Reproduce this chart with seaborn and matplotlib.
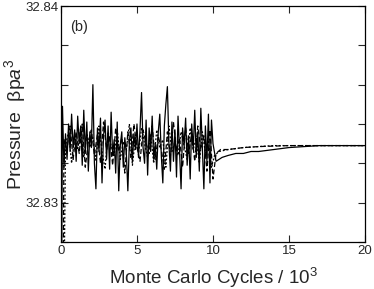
import matplotlib
matplotlib.use("Agg")
import matplotlib.pyplot as plt
import seaborn as sns
from matplotlib.ticker import FixedLocator, FuncFormatter

sns.set_style("ticks")
plt.rcParams['font.family'] = ['Liberation Sans', 'DejaVu Sans']
plt.rcParams['mathtext.fontset'] = 'custom'
plt.rcParams['mathtext.rm'] = 'Liberation Sans'
plt.rcParams['mathtext.it'] = 'Liberation Sans:italic'

# ---- data ----
solid_x = [0.0, 0.1, 0.2, 0.3, 0.4, 0.5, 0.6, 0.7, 0.8, 0.9,
           1.0, 1.1, 1.2, 1.3, 1.4, 1.5, 1.6, 1.7, 1.8, 1.9,
           2.0, 2.1, 2.2, 2.3, 2.4, 2.5, 2.6, 2.7, 2.8, 2.9,
           3.0, 3.1, 3.2, 3.3, 3.4, 3.5, 3.6, 3.7, 3.8, 3.9,
           4.0, 4.1, 4.2, 4.3, 4.4, 4.5, 4.6, 4.7, 4.8, 4.9,
           5.0, 5.1, 5.2, 5.3, 5.4, 5.5, 5.6, 5.7, 5.8, 5.9,
           6.0, 6.1, 6.2, 6.3, 6.4, 6.5, 6.6, 6.7, 6.8, 6.9,
           7.0, 7.1, 7.2, 7.3, 7.4, 7.5, 7.6, 7.7, 7.8, 7.9,
           8.0, 8.1, 8.2, 8.3, 8.4, 8.5, 8.6, 8.7, 8.8, 8.9,
           9.0, 9.1, 9.2, 9.3, 9.4, 9.5, 9.6, 9.7, 9.8, 9.9,
           10.0, 10.2, 10.6, 11.0, 11.5, 12.0, 12.5, 13.0, 14.0, 15.0,
           16.0, 17.0, 18.0, 19.0, 20.0]
solid_y = [32.8200, 32.8349, 32.8318, 32.8335, 32.8322, 32.8340, 32.8326, 32.8345, 32.8328, 32.8337,
           32.8321, 32.8344, 32.8330, 32.8339, 32.8319, 32.8347, 32.8325, 32.8341, 32.8316, 32.8336,
           32.8328, 32.8360, 32.8320, 32.8307, 32.8338, 32.8326, 32.8343, 32.8310, 32.8334, 32.8342,
           32.8322, 32.8339, 32.8317, 32.8346, 32.8324, 32.8332, 32.8315, 32.8341, 32.8306, 32.8329,
           32.8336, 32.8318, 32.8333, 32.8325, 32.8306, 32.8331, 32.8338, 32.8321, 32.8335, 32.8327,
           32.8340, 32.8323, 32.8337, 32.8356, 32.8328, 32.8320, 32.8342, 32.8314, 32.8338, 32.8326,
           32.8344, 32.8322, 32.8330, 32.8317, 32.8336, 32.8345, 32.8324, 32.8310, 32.8339, 32.8350,
           32.8359, 32.8330, 32.8316, 32.8341, 32.8321, 32.8337, 32.8313, 32.8344, 32.8326, 32.8307,
           32.8338, 32.8329, 32.8343, 32.8319, 32.8334, 32.8312, 32.8340, 32.8327, 32.8347, 32.8323,
           32.8336, 32.8316, 32.8348, 32.8328, 32.8307, 32.8339, 32.8321, 32.8345, 32.8310, 32.8342,
           32.8330, 32.8321, 32.8323, 32.8324, 32.8325, 32.8325, 32.8326, 32.8326, 32.8327, 32.8328,
           32.83285, 32.8329, 32.8329, 32.8329, 32.8329]

dash_x = [0.05, 0.2, 0.4, 0.6, 0.8, 1.0, 1.2, 1.4, 1.6, 1.8,
          2.0, 2.2, 2.4, 2.6, 2.8, 3.0, 3.2, 3.4, 3.6, 3.8,
          4.0, 4.2, 4.4, 4.6, 4.8, 5.0, 5.2, 5.4, 5.6, 5.8,
          6.0, 6.2, 6.4, 6.6, 6.8, 7.0, 7.2, 7.4, 7.6, 7.8,
          8.0, 8.2, 8.4, 8.6, 8.8, 9.0, 9.2, 9.4, 9.6, 9.8,
          10.0, 10.2, 10.5, 11.0, 12.0, 13.0, 15.0, 20.0]
dash_y = [32.8150, 32.8332, 32.8327, 32.8339, 32.8322, 32.8336, 32.8325, 32.8340, 32.8318, 32.8331,
          32.8337, 32.8324, 32.8335, 32.8320, 32.8341, 32.8327, 32.8334, 32.8319, 32.8338, 32.8326,
          32.8333, 32.8315, 32.8336, 32.8323, 32.8340, 32.8328, 32.8321, 32.8337, 32.8330, 32.8325,
          32.8339, 32.8322, 32.8334, 32.8327, 32.8317, 32.8336, 32.8324, 32.8341, 32.8326, 32.8333,
          32.8318, 32.8338, 32.8325, 32.8335, 32.8321, 32.8339, 32.8327, 32.8334, 32.8316, 32.8337,
          32.8312, 32.8325, 32.8327, 32.8327, 32.8328, 32.83285, 32.8329, 32.8329]

dot_x = [0.1, 0.3, 0.5, 0.7, 0.9, 1.1, 1.3, 1.5, 1.7, 1.9,
         2.1, 2.3, 2.5, 2.7, 2.9, 3.1, 3.3, 3.5, 3.7, 3.9,
         4.1, 4.3, 4.5, 4.7, 4.9, 5.1, 5.3, 5.5, 5.7, 5.9,
         6.1, 6.3, 6.5, 6.7, 6.9, 7.1, 7.3, 7.5, 7.7, 7.9,
         8.1, 8.3, 8.5, 8.7, 8.9, 9.1, 9.3, 9.5, 9.7, 9.9,
         10.1, 10.4, 11.0, 12.0, 14.0, 20.0]
dot_y = [32.8180, 32.8329, 32.8336, 32.8320, 32.8334, 32.8327, 32.8338, 32.8323, 32.8335, 32.8328,
         32.8333, 32.8321, 32.8339, 32.8326, 32.8317, 32.8336, 32.8329, 32.8324, 32.8337, 32.8322,
         32.8331, 32.8327, 32.8340, 32.8319, 32.8333, 32.8325, 32.8338, 32.8330, 32.8323, 32.8335,
         32.8320, 32.8337, 32.8328, 32.8332, 32.8318, 32.8339, 32.8326, 32.8331, 32.8324, 32.8336,
         32.8329, 32.8322, 32.8338, 32.8327, 32.8333, 32.8320, 32.8336, 32.8325, 32.8331, 32.8318,
         32.8324, 32.8326, 32.8327, 32.8328, 32.8329, 32.8329]

xticks = [0, 5, 10, 15, 20]
yticks = [32.828, 32.830, 32.832, 32.834, 32.836, 32.838, 32.840]
ylabeled = ["32.83", "32.84"]

fig = plt.figure(figsize=(3.74, 2.89), dpi=100)
ax = fig.add_axes([0.163, 0.163, 0.813, 0.816])

sns.lineplot(x=solid_x, y=solid_y, ax=ax, color='black', lw=0.9, sort=False)
sns.lineplot(x=dash_x, y=dash_y, ax=ax, color='black', lw=0.9, sort=False, linestyle=(0, (4, 2)))
sns.lineplot(x=dot_x, y=dot_y, ax=ax, color='black', lw=0.9, sort=False, linestyle=(0, (1.5, 1.5)))

ax.set_xlim(0, 20)
ax.set_ylim(32.828, 32.840)
ax.xaxis.set_major_locator(FixedLocator(xticks))
ax.yaxis.set_major_locator(FixedLocator(yticks))
ax.set_xticklabels([str(t) for t in xticks])
ax.yaxis.set_major_formatter(FuncFormatter(
    lambda v, p: (f"{v:.2f}" if f"{v:.2f}" in ylabeled and abs(v * 100 - round(v * 100)) < 1e-6 else "")))
ax.tick_params(direction='in', top=True, right=True, length=5, width=0.8, labelsize=9.5, pad=2)
for s in ax.spines.values():
    s.set_linewidth(0.9)
    s.set_color('black')

ax.set_xlabel("")
ax.set_ylabel("")
fig.text(213 / 374, 5 / 289, r"Monte Carlo Cycles / 10$^3$", fontsize=13.5,
         ha='center', va='baseline')
fig.text(15.5 / 374, 1 - 124 / 289, r"Pressure  βp$a^3$", fontsize=14,
         ha='center', va='center', rotation=90)
ax.text(0.03, 0.94, "(b)", transform=ax.transAxes, fontsize=10.5, va='top', ha='left')

fig.savefig("out.png", dpi=100)
